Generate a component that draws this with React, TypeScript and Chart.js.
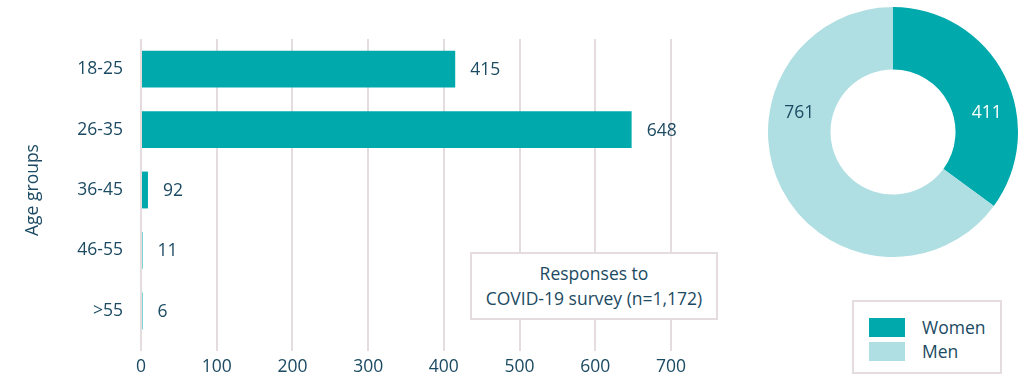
import React, { useEffect, useRef } from "react";
import { Chart, registerables } from "chart.js";

Chart.register(...registerables);

const ageGroups = ["18-25", "26-35", "36-45", "46-55", ">55"];
// bar lengths as drawn in the reference
const barLengths = [415, 648, 9.2, 1.1, 0.6];
// value labels printed next to the bars
const barLabels = ["415", "648", "92", "11", "6"];
const xTicks = [0, 100, 200, 300, 400, 500, 600, 700];

const genders = ["Women", "Men"];
const genderCounts = [411, 761];

const TEAL = "#00a9ac";
const LIGHT = "#b0dfe3";
const TEXT = "#1b4a62";
const GRID = "#e4dcde";
const FONT = "'Open Sans', sans-serif";
const FS = 17.5;

export default function App() {
  const barRef = useRef<HTMLCanvasElement>(null);
  const donutRef = useRef<HTMLCanvasElement>(null);

  useEffect(() => {
    document.body.style.margin = "0";
    const barLabelPlugin = {
      id: "barLabels",
      afterDatasetsDraw(chart: any) {
        const ctx = chart.ctx;
        const meta = chart.getDatasetMeta(0);
        ctx.save();
        ctx.font = `${FS}px ${FONT}`;
        ctx.fillStyle = TEXT;
        ctx.textAlign = "left";
        ctx.textBaseline = "middle";
        meta.data.forEach((el: any, i: number) => {
          ctx.fillText(barLabels[i], el.x + 15, el.y + 1);
        });
        ctx.restore();
      },
    };
    const bar = new Chart(barRef.current!, {
      type: "bar",
      data: {
        labels: ageGroups,
        datasets: [
          {
            data: barLengths,
            backgroundColor: TEAL,
            barPercentage: 0.61,
            categoryPercentage: 1,
            minBarLength: 1.5,
          },
        ],
      },
      options: {
        indexAxis: "y",
        animation: false,
        responsive: false,
        maintainAspectRatio: false,
        layout: { padding: { top: 39, right: 29, left: 0, bottom: 0 } },
        plugins: { legend: { display: false }, tooltip: { enabled: false } },
        scales: {
          x: {
            min: 0,
            max: 700,
            afterBuildTicks: (s: any) => {
              s.ticks = xTicks.map((v) => ({ value: v }));
            },
            afterFit: (s: any) => {
              s.height = 36;
            },
            grid: { color: GRID, lineWidth: 2, tickLength: 10, drawTicks: true },
            border: { display: false },
            ticks: {
              color: TEXT,
              font: { family: FONT, size: FS },
              padding: 6,
              maxRotation: 0,
            },
          },
          y: {
            afterFit: (s: any) => {
              s.width = 141;
            },
            grid: { display: false },
            border: { display: false },
            ticks: { color: TEXT, font: { family: FONT, size: FS }, padding: 10 },
            title: {
              display: true,
              text: "Age groups",
              color: TEXT,
              font: { family: FONT, size: FS },
              padding: { top: 23, bottom: 0 },
            },
          },
        },
      },
      plugins: [barLabelPlugin],
    } as any);

    const donutLabelPlugin = {
      id: "donutLabels",
      afterDatasetsDraw(chart: any) {
        const ctx = chart.ctx;
        const meta = chart.getDatasetMeta(0);
        const angles = [78.6, -78.6];
        const colors = ["#ffffff", TEXT];
        ctx.save();
        ctx.font = `${FS}px ${FONT}`;
        ctx.textAlign = "center";
        ctx.textBaseline = "middle";
        meta.data.forEach((el: any, i: number) => {
          const r = (el.innerRadius + el.outerRadius) / 2 + 2;
          const a = (angles[i] * Math.PI) / 180;
          ctx.fillStyle = colors[i];
          ctx.fillText(String(genderCounts[i]), el.x + r * Math.sin(a), el.y - r * Math.cos(a));
        });
        ctx.restore();
      },
    };
    const donut = new Chart(donutRef.current!, {
      type: "doughnut",
      data: {
        labels: genders,
        datasets: [
          {
            data: genderCounts,
            backgroundColor: [TEAL, LIGHT],
            borderWidth: 0,
          },
        ],
      },
      options: {
        animation: false,
        responsive: false,
        maintainAspectRatio: false,
        cutout: "50%",
        layout: { padding: 0 },
        plugins: { legend: { display: false }, tooltip: { enabled: false } },
      },
      plugins: [donutLabelPlugin],
    } as any);

    return () => {
      bar.destroy();
      donut.destroy();
    };
  }, []);

  return (
    <div style={{ position: "relative", width: 1020, height: 377, background: "#fff", fontFamily: FONT, color: TEXT }}>
      <canvas ref={barRef} width={700} height={377} style={{ position: "absolute", left: 0, top: 0 }} />
      <canvas ref={donutRef} width={250} height={250} style={{ position: "absolute", left: 768, top: 7 }} />
      <div
        style={{
          position: "absolute",
          left: 470,
          top: 252,
          width: 248,
          height: 68,
          boxSizing: "border-box",
          border: `2px solid ${GRID}`,
          background: "#fff",
          display: "flex",
          flexDirection: "column",
          justifyContent: "center",
          alignItems: "center",
          fontSize: FS,
          lineHeight: "25px",
          textAlign: "center",
        }}
      >
        <div>Responses to</div>
        <div>COVID-19 survey (n=1,172)</div>
      </div>
      <div
        style={{
          position: "absolute",
          left: 852,
          top: 300,
          width: 150,
          height: 74,
          boxSizing: "border-box",
          border: `2px solid ${GRID}`,
          background: "#fff",
          fontSize: FS,
        }}
      >
        {genders.map((g, i) => (
          <div key={g} style={{ position: "absolute", left: 15, top: 16 + i * 24, height: 19, display: "flex", alignItems: "center" }}>
            <div style={{ width: 36, height: 19, background: i === 0 ? TEAL : LIGHT }} />
            <span style={{ marginLeft: 17, lineHeight: "19px" }}>{g}</span>
          </div>
        ))}
      </div>
    </div>
  );
}
